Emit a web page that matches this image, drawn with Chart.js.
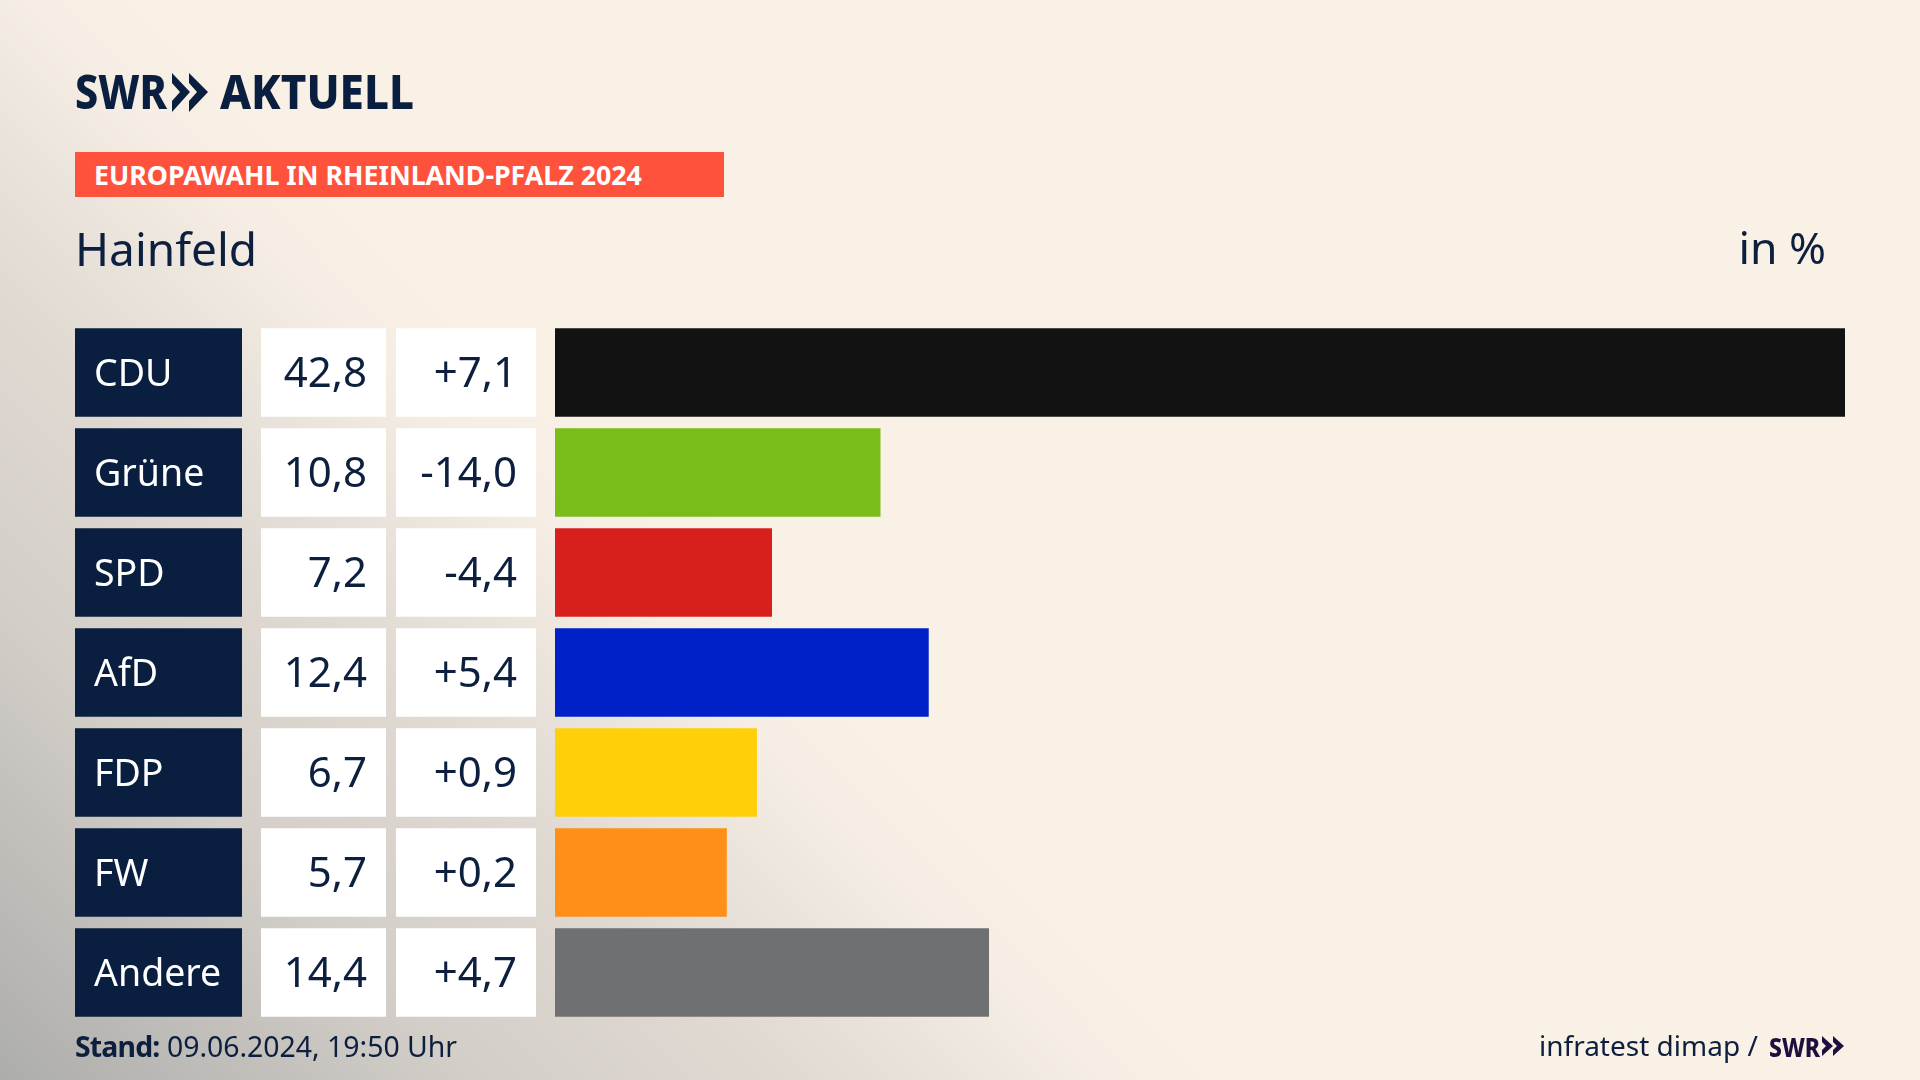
<!DOCTYPE html>
<html lang="de">
<head>
<meta charset="utf-8">
<title>Europawahl in Rheinland-Pfalz 2024 – Hainfeld</title>
<script src="https://cdn.jsdelivr.net/npm/chart.js@4"></script>
<style>
html,body{margin:0;padding:0;width:1920px;height:1080px;overflow:hidden}
body{position:relative;font-family:"Noto Sans",sans-serif;color:#0c1f3f;background:
 linear-gradient(225deg,#faf1e6 57%,#f6eee4 63%,#e9e2da 69%,#e0d9d2 74%,#d3cec8 84%,#adadab 100%)}
canvas{position:absolute;left:0;top:0}
.t{position:absolute;white-space:nowrap;line-height:1;transform-origin:0 0}
#logo1,#logo2{font-weight:800;color:#0a1f3f}
#banner{position:absolute;left:75px;top:152px;width:649px;height:45px;background:#ff523d}
#bannerText{left:94px;top:161px;font-size:27px;font-weight:700;color:#fff}
svg{position:absolute}
</style>
</head>
<body>
<canvas id="c" width="1920" height="1080"></canvas>
<div class="t" id="logo1" style="left:75px;top:67px;font-size:48px">SWR</div>
<svg style="left:172px;top:73px" width="36" height="39" viewBox="0 0 36 39"><path fill="#0a1f3f" d="M0 0 18 19 0 39V28L8 19 0 10ZM17 0 36 19 17 39V28L25 19 17 10Z"/></svg>
<div class="t" id="logo2" style="left:220px;top:67px;font-size:48px">AKTUELL</div>
<div id="banner"></div>
<div class="t" id="bannerText">EUROPAWAHL IN RHEINLAND-PFALZ 2024</div>
<div class="t" style="left:75px;top:224.5px;font-size:46px">Hainfeld</div>
<div class="t" style="right:94px;top:225px;font-size:44.5px">in %</div>
<div class="t" style="left:75px;top:1032px;font-size:28.4px"><b style="letter-spacing:-.8px">Stand:</b> 09.06.2024, 19:50 Uhr</div>
<div class="t" style="left:1539px;top:1031px;font-size:28px">infratest dimap /</div>
<div class="t" id="swr2" style="left:1769px;top:1033px;font-size:27px;font-weight:800;color:#1f0f3f">SWR</div>
<svg style="left:1822px;top:1036px" width="22" height="20" viewBox="0 0 22 20"><path fill="#1f0f3f" d="M0 0 11 10 0 20V14L4 10 0 6ZM11 0 22 10 11 20V14L15 10 11 6Z"/></svg>
<script>
const parties = ["CDU","Grüne","SPD","AfD","FDP","FW","Andere"];
const shares = [42.8,10.8,7.2,12.4,6.7,5.7,14.4];
const changes = [7.1,-14.0,-4.4,5.4,0.9,0.2,4.7];
const barColors = ["#121212","#7abd1a","#d7201c","#0020c8","#ffcf0a","#ff8f17","#6f7072"];

const fmt = v => v.toFixed(1).replace(".",",");
const fmtChange = v => (v>0?"+":"") + fmt(v);

function fitWidth(id,w){
  const el=document.getElementById(id);
  el.style.transform="scaleX("+(w/el.offsetWidth)+")";
}
fitWidth("logo1",92);fitWidth("logo2",194);fitWidth("bannerText",548);fitWidth("swr2",51);

const tablePlugin = {
  id:"table",
  beforeDraw(chart){
    const {ctx,scales:{y}} = chart;
    const left = y.left, h = y.height/parties.length*0.885;
    ctx.save();
    ctx.font = '42px "Noto Sans"';
    ctx.textBaseline = "middle";
    ctx.textAlign = "right";
    parties.forEach((p,i)=>{
      const cy = y.getPixelForValue(i), top = cy-h/2;
      ctx.fillStyle = "#0a1f3f"; ctx.fillRect(left-19,top,167,h);
      ctx.fillStyle = "#ffffff"; ctx.fillRect(left+167,top,125,h); ctx.fillRect(left+302,top,140,h);
      ctx.fillStyle = "#0c1f3f";
      ctx.fillText(fmt(shares[i]),left+273,cy+3);
      ctx.fillText(fmtChange(changes[i]),left+423,cy+3);
    });
    ctx.restore();
  }
};

new Chart(document.getElementById("c"),{
  type:"bar",
  plugins:[tablePlugin],
  data:{labels:parties,datasets:[{data:shares,backgroundColor:barColors,borderWidth:0,barPercentage:0.885,categoryPercentage:1}]},
  options:{
    indexAxis:"y",responsive:false,animation:false,devicePixelRatio:1,
    layout:{padding:{left:94,right:75,top:322.5,bottom:57.5}},
    plugins:{legend:{display:false},tooltip:{enabled:false},title:{display:false}},
    scales:{
      x:{display:false,min:0,max:42.8},
      y:{
        afterFit(s){s.width=461;},
        border:{display:false},grid:{display:false},
        ticks:{autoSkip:false,crossAlign:"far",color:"#ffffff",font:{family:"Noto Sans",size:37.5},padding:0,labelOffset:2.4}
      }
    }
  }
});
</script>
</body>
</html>
